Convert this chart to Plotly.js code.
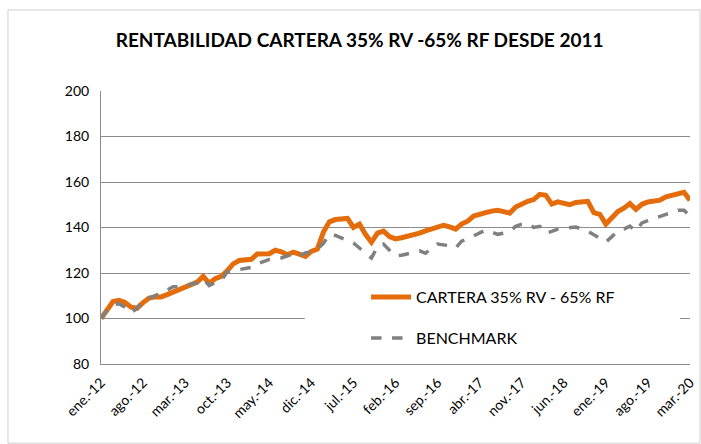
<!DOCTYPE html>
<html>
<head>
<meta charset="utf-8">
<script src="https://cdn.plot.ly/plotly-3.0.1.min.js"></script>
<style>html,body{margin:0;padding:0;background:#fff;}#chart{width:701px;height:444px;}</style>
</head>
<body>
<div id="chart"></div>
<script>
// Month index 0 = ene.-12 ... 98 = mar.-20
const tickLabels = ['ene.-12','ago.-12','mar.-13','oct.-13','may.-14','dic.-14','jul.-15','feb.-16','sep.-16','abr.-17','nov.-17','jun.-18','ene.-19','ago.-19','mar.-20'];
const tickMonths = [0,7,14,21,28,35,42,49,56,63,70,77,84,91,98];

const cartera = [
 100,104,107.5,108,107,105,104.5,107,109,109.5,
 109.5,110.5,111.5,113,114,115,116,118.5,115.5,117.5,
 118.5,121,124,125.5,126,126,128.4,128.4,128.5,130,
 129.3,128,129.2,128.3,127.3,129.5,130.5,138,142.5,143.5,
 143.6,144,140,141.5,137,133.5,137.5,138.4,136,135,
 135.5,136,136.5,137.5,138.5,139.3,140,141,140.3,139.3,
 141.5,142.8,145,145.5,146.5,147.2,147.6,147,146.3,149,
 150.5,151.5,152.3,154.6,154.2,150.3,151.3,150.7,150,151,
 151.2,151.5,146.5,145.8,141.5,144.5,147,148.5,150.5,148,
 150.2,151.2,151.5,152,153.5,154.3,155,155.5,152
];
const benchmark = [
 100,103.5,106,106.5,105,102.5,104.5,108,109,110,
 111.5,112.5,114,114,114.5,115,115.7,117.5,114.5,115.7,
 116.6,120.5,121,121.3,121.8,122.5,124,125,126,126.3,
 126.6,127.5,128.3,127.5,128.8,129.3,130.5,133,137,136.5,
 135.4,134,133.2,131,129,126.6,131.5,132.7,130,127.5,
 127.8,128.4,129,129.7,128.7,131,132.7,132.3,132,131,
 134,135,136.2,137.5,138.9,138,137,137.5,138.4,140.5,
 141.5,141.8,140,140.5,137.5,138.3,139.3,139.6,140,140.2,
 139.3,138.4,136.8,135.4,133.6,136,138.4,139.3,140.6,138.4,
 142,143,144,144.6,145.8,146.5,147.6,147.6,145
];
const seriesNames = ['CARTERA 35% RV - 65% RF','BENCHMARK'];
const titleText = 'RENTABILIDAD CARTERA 35% RV -65% RF DESDE 2011';

const months = cartera.map((_, i) => i);
const FONT = 'Lato, "Open Sans", sans-serif';

const traces = [
  {x: months, y: cartera, type: 'scatter', mode: 'lines', name: seriesNames[0],
   line: {color: '#E46C0A', width: 5}, legend: 'legend'},
  {x: months, y: benchmark, type: 'scatter', mode: 'lines', name: seriesNames[1],
   line: {color: '#808080', width: 3.5, dash: 'dash'}, legend: 'legend2'}
];

const legendCommon = {bgcolor: 'rgba(0,0,0,0)', borderwidth: 0, itemwidth: 40,
  font: {family: FONT, size: 16, color: '#000'}, xanchor: 'left', yanchor: 'middle'};

const layout = {
  width: 701, height: 444,
  margin: {l: 101, r: 11, t: 91, b: 80},
  paper_bgcolor: '#fff', plot_bgcolor: '#fff',
  font: {family: FONT, color: '#000'},
  title: {text: '<b>' + titleText + '</b>', font: {family: FONT, size: 19, color: '#000'},
          x: 0.513, xanchor: 'center', y: 0.91, yanchor: 'middle'},
  xaxis: {range: [0, 98], tickvals: tickMonths, ticktext: tickLabels, tickangle: -45,
          showgrid: false, zeroline: false, showline: true, linecolor: '#8c8c8c', linewidth: 1,
          ticks: '', ticklabelstandoff: 4, tickfont: {family: FONT, size: 14, color: '#000'}, fixedrange: true},
  yaxis: {range: [80, 200], dtick: 20, tick0: 80, showgrid: true, gridcolor: '#8c8c8c', gridwidth: 1,
          zeroline: false, showline: true, linecolor: '#8c8c8c', linewidth: 1, ticks: '',
          ticklabelstandoff: 8, tickfont: {family: FONT, size: 14, color: '#000'}, fixedrange: true},
  showlegend: true,
  legend: Object.assign({x: 0.45, y: 0.245}, legendCommon),
  legend2: Object.assign({x: 0.45, y: 0.095}, legendCommon),
  shapes: [
    {type: 'rect', xref: 'paper', yref: 'paper', x0: 0.346, x1: 0.983, y0: 0.03, y1: 0.29,
     fillcolor: '#fff', line: {width: 0}, layer: 'above'},
    {type: 'rect', xref: 'paper', yref: 'paper', x0: -0.158, x1: 1.017, y0: -0.29, y1: 1.297,
     fillcolor: 'rgba(0,0,0,0)', line: {color: '#d0d0d0', width: 1}, layer: 'below'}
  ]
};

Plotly.newPlot('chart', traces, layout, {displayModeBar: false, staticPlot: true});
</script>
</body>
</html>
